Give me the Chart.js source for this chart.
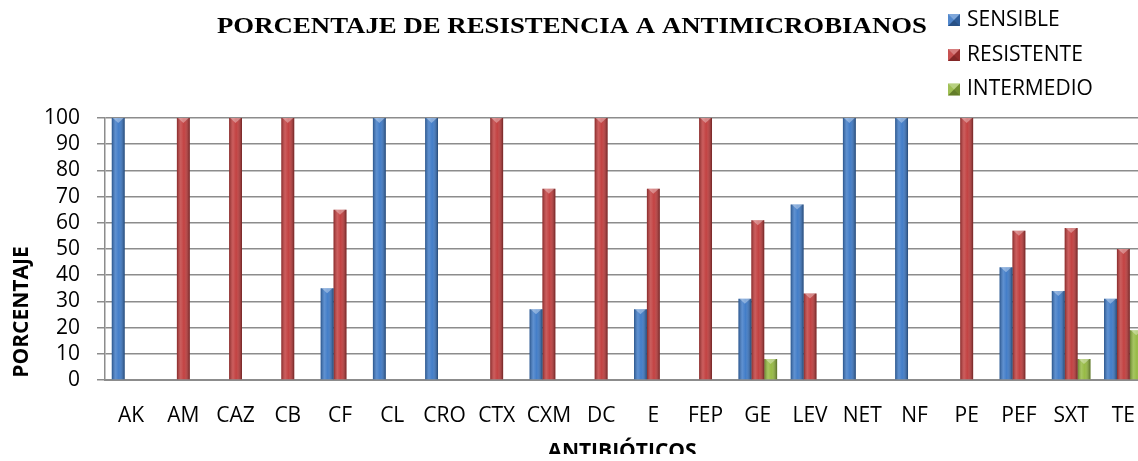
<!DOCTYPE html>
<html><head><meta charset="utf-8">
<script src="https://cdn.jsdelivr.net/npm/chart.js@4/dist/chart.umd.min.js"></script>
<style>
html,body{margin:0;padding:0;overflow:hidden;background:#fff;width:1138px;height:461px}
#wrap{position:relative;width:1138px;height:461px;overflow:hidden}
#c{position:absolute;left:0;top:0;display:block}
</style></head><body>
<div id="wrap"><canvas id="c" width="1158" height="461" style="width:1158px;height:461px"></canvas></div>
<script>
const chartTitle = 'PORCENTAJE DE RESISTENCIA A ANTIMICROBIANOS';
const xTitle = 'ANTIBIÓTICOS';
const yTitle = 'PORCENTAJE';
const categories = ['AK','AM','CAZ','CB','CF','CL','CRO','CTX','CXM','DC','E','FEP','GE','LEV','NET','NF','PE','PEF','SXT','TE'];
const seriesNames = ['SENSIBLE','RESISTENTE','INTERMEDIO'];
const sensible   = [100,null,null,null,35,100,100,null,27,null,27,null,31,67,100,100,null,43,34,31];
const resistente = [null,100,100,100,65,null,null,100,73,100,73,100,61,33,null,null,100,57,58,50];
const intermedio = [null,null,null,null,null,null,null,null,null,null,null,null,8,null,null,null,null,null,8,19];
const yTicks = [0,10,20,30,40,50,60,70,80,90,100];
const colors = ['#3b78c6','#c03a3a','#93b83e'];

const FONT = "'Open Sans', 'Noto Sans', sans-serif";

const bar3d = {
  id:'bar3d',
  afterDatasetsDraw(chart){
    const ctx = chart.ctx;
    chart.data.datasets.forEach((ds,di)=>{
      const meta = chart.getDatasetMeta(di);
      meta.data.forEach((el,i)=>{
        if (ds.data[i]==null) return;
        const p = el.getProps(['x','y','base','width'], true);
        const l = p.x - p.width/2, w = p.width, h = p.base - p.y;
        if (h <= 0) return;
        const g = ctx.createLinearGradient(l,0,l+w,0);
        g.addColorStop(0,'rgba(0,0,0,0.30)');
        g.addColorStop(0.3,'rgba(255,255,255,0.18)');
        g.addColorStop(0.55,'rgba(255,255,255,0.04)');
        g.addColorStop(1,'rgba(0,0,0,0.42)');
        ctx.save();
        ctx.fillStyle = g;
        ctx.fillRect(l,p.y,w,h);
        ctx.fillStyle = 'rgba(255,255,255,0.35)';
        ctx.beginPath();
        ctx.moveTo(l+1,p.y); ctx.lineTo(l+w-1,p.y); ctx.lineTo(p.x,p.y+5); ctx.closePath();
        ctx.fill();
        ctx.restore();
      });
    });
  }
};

const texts = {
  id:'texts',
  afterDraw(chart){
    const ctx = chart.ctx;
    ctx.save();
    ctx.fillStyle = '#000';
    ctx.font = "bold 23px 'Liberation Serif', 'Times New Roman', serif";
    ctx.textAlign = 'left'; ctx.textBaseline = 'alphabetic';
    const tw = ctx.measureText(chartTitle).width;
    ctx.save();
    ctx.translate(217, 33);
    ctx.scale(710 / tw, 1);
    ctx.fillText(chartTitle, 0, 0);
    ctx.restore();
    const lx = 948, ly = [20, 55, 89.5], s = 12;
    chart.data.datasets.forEach((ds,i)=>{
      const x0 = lx, y0 = ly[i] - s/2;
      ctx.fillStyle = ds.backgroundColor;
      ctx.fillRect(x0,y0,s,s);
      const cx = x0+s/2, cy = y0+s/2;
      const tri = (a,b,c,col)=>{ctx.fillStyle=col;ctx.beginPath();ctx.moveTo(a[0],a[1]);ctx.lineTo(b[0],b[1]);ctx.lineTo(c[0],c[1]);ctx.closePath();ctx.fill();};
      tri([x0,y0],[x0+s,y0],[cx,cy],'rgba(255,255,255,0.35)');
      tri([x0,y0],[x0,y0+s],[cx,cy],'rgba(255,255,255,0.12)');
      tri([x0+s,y0],[x0+s,y0+s],[cx,cy],'rgba(0,0,0,0.22)');
      tri([x0,y0+s],[x0+s,y0+s],[cx,cy],'rgba(0,0,0,0.32)');
      ctx.fillStyle = '#000';
      ctx.font = "21px " + FONT;
      ctx.textAlign = 'left';
      ctx.textBaseline = 'middle';
      ctx.fillText(ds.label, 967, ly[i]);
    });
    ctx.save();
    ctx.translate(22, 312);
    ctx.rotate(-Math.PI/2);
    ctx.font = "bold 21px " + FONT;
    ctx.textAlign = 'center'; ctx.textBaseline = 'middle';
    ctx.fillText(yTitle, 0, 0);
    ctx.restore();
    ctx.save();
    ctx.beginPath(); ctx.rect(0,0,chart.width,454); ctx.clip();
    ctx.font = "bold 21px " + FONT;
    ctx.textAlign = 'center'; ctx.textBaseline = 'alphabetic';
    ctx.fillText(xTitle, 622, 458);
    ctx.restore();
    ctx.restore();
  }
};

new Chart(document.getElementById('c'), {
  type:'bar',
  data:{
    labels: categories,
    datasets:[
      {label:seriesNames[0], data:sensible, backgroundColor:colors[0]},
      {label:seriesNames[1], data:resistente, backgroundColor:colors[1]},
      {label:seriesNames[2], data:intermedio, backgroundColor:colors[2]}
    ]
  },
  options:{
    responsive:false,
    devicePixelRatio:1,
    animation:false,
    datasets:{bar:{categoryPercentage:0.74, barPercentage:1.0, borderWidth:0}},
    layout:{padding:{top:118, right:1, left:0, bottom:0}},
    plugins:{legend:{display:false}, title:{display:false}, tooltip:{enabled:false}},
    scales:{
      x:{
        offset:true,
        grid:{display:false, drawTicks:false},
        border:{display:true, color:'#8c8c8c', width:2},
        ticks:{font:{family:FONT, size:21}, color:'#000', padding:23, maxRotation:0, autoSkip:false},
        afterFit(s){ s.height = 81; }
      },
      y:{
        min:0, max:100,
        afterBuildTicks(s){ s.ticks = yTicks.map(v=>({value:v})); },
        grid:{color:'#8c8c8c', lineWidth:1.5, tickLength:8},
        border:{display:true, color:'#8c8c8c', width:1.5},
        ticks:{font:{family:FONT, size:21}, color:'#000', padding:17, autoSkip:false},
        afterFit(s){ s.width = 105; }
      }
    }
  },
  plugins:[bar3d, texts]
});
</script>
</body></html>
